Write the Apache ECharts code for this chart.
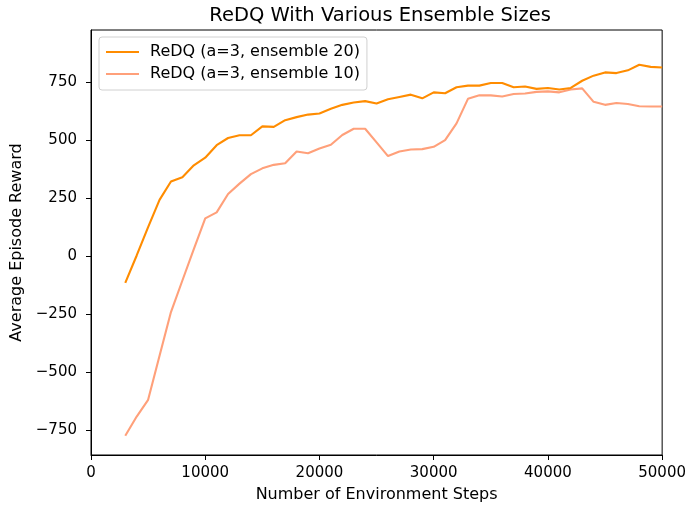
<!DOCTYPE html>
<html>
<head>
<meta charset="utf-8">
<script src="https://cdn.jsdelivr.net/npm/echarts@6/dist/echarts.min.js"></script>
<style>
html,body{margin:0;padding:0;background:#fff;}
#chart{width:689px;height:508px;}
</style>
</head>
<body>
<div id="chart"></div>
<script>
var steps = [3000,4000,5000,6000,7000,8000,9000,10000,11000,12000,13000,14000,15000,16000,17000,18000,19000,20000,21000,22000,23000,24000,25000,26000,27000,28000,29000,30000,31000,32000,33000,34000,35000,36000,37000,38000,39000,40000,41000,42000,43000,44000,45000,46000,47000,48000,49000,50000];
var ensemble20 = [-115,3,125,243,322,341,392,425,479,510,522,522,560,558,587,600,611,616,636,653,663,669,659,677,687,697,681,707,703,729,736,736,747,747,729,732,722,726,719,726,757,779,793,790,802,826,817,814];
var ensemble10 = [-775,-692,-620,-430,-241,-105,30,163,189,268,313,354,379,394,401,452,444,465,481,523,550,550,491,432,452,460,462,472,501,573,679,694,694,689,700,702,709,711,707,719,724,666,653,661,657,647,646,646];
var seriesNames = ['ReDQ (a=3, ensemble 20)', 'ReDQ (a=3, ensemble 10)'];
var yTicks = [-750,-500,-250,0,250,500,750];
var xTicks = [0,10000,20000,30000,40000,50000];
var titleText = 'ReDQ With Various Ensemble Sizes';
var xName = 'Number of Environment Steps';
var yName = 'Average Episode Reward';

function pairs(xs, ys){ return xs.map(function(x,i){ return [x, ys[i]]; }); }
var FONT = 'DejaVu Sans';
var chart = echarts.init(document.getElementById('chart'), null, {renderer:'canvas'});
chart.setOption({
  animation: false,
  backgroundColor: '#ffffff',
  textStyle: {fontFamily: FONT},
  title: {
    text: titleText, left: 375, top: 1, textAlign: 'center',
    textStyle: {fontFamily: FONT, fontSize: 19.5, fontWeight: 'normal', color: '#000'}
  },
  grid: {left: 91, right: 25, top: 30, bottom: 51, show: true, borderColor: '#000', borderWidth: 1, backgroundColor: 'transparent'},
  legend: {
    left: 99, top: 37, orient: 'vertical', icon: 'rect',
    padding: [7, 7, 8, 7], itemGap: 6, itemWidth: 33, itemHeight: 2,
    backgroundColor: '#fff', borderColor: '#d0d0d0', borderWidth: 1, borderRadius: 3,
    textStyle: {fontFamily: FONT, fontSize: 16, color: '#000', padding: [0,0,0,6]},
    data: seriesNames
  },
  xAxis: {
    type: 'value', min: 0, max: 50000, interval: 10000,
    name: xName, nameLocation: 'middle', nameGap: 32,
    nameTextStyle: {fontFamily: FONT, fontSize: 16, color: '#000'},
    axisLine: {show: true, onZero: false, lineStyle: {color: '#000', width: 1}},
    axisTick: {show: true, length: 5, lineStyle: {color: '#000'}},
    axisLabel: {fontFamily: FONT, fontSize: 15, color: '#000', margin: 11, formatter: function(v){ return String(v); }},
    splitLine: {show: false}
  },
  yAxis: {
    type: 'value', min: -858, max: 976,
    name: yName, nameLocation: 'middle', nameGap: 61,
    nameTextStyle: {fontFamily: FONT, fontSize: 16, color: '#000'},
    axisLine: {show: true, onZero: false, lineStyle: {color: '#000', width: 1}},
    axisTick: {show: true, length: 5, lineStyle: {color: '#000'}, customValues: yTicks},
    axisLabel: {fontFamily: FONT, fontSize: 15, color: '#000', margin: 14, customValues: yTicks,
      formatter: function(v){ return String(v).replace('-', '\u2212'); }},
    splitLine: {show: false}
  },
  series: [
    {name: seriesNames[0], type: 'line', data: pairs(steps, ensemble20), symbol: 'none', showSymbol: false,
     lineStyle: {color: '#ff8c00', width: 2.1}, itemStyle: {color: '#ff8c00'}, z: 3},
    {name: seriesNames[1], type: 'line', data: pairs(steps, ensemble10), symbol: 'none', showSymbol: false,
     lineStyle: {color: '#ffa07a', width: 2.1}, itemStyle: {color: '#ffa07a'}, z: 2}
  ]
});
</script>
</body>
</html>
